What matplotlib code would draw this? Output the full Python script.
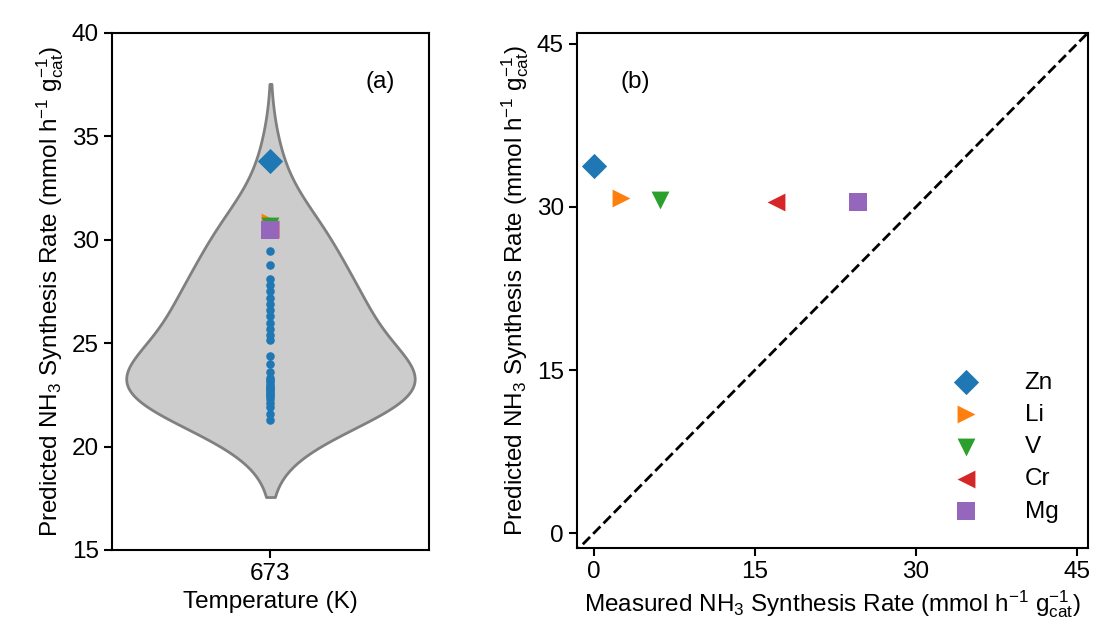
import numpy as np
import matplotlib
matplotlib.use("Agg")
import matplotlib.pyplot as plt

plt.rcParams['font.family'] = ['Liberation Sans', 'DejaVu Sans']
plt.rcParams['mathtext.fontset'] = 'custom'
plt.rcParams['mathtext.rm'] = 'Liberation Sans'
plt.rcParams['mathtext.it'] = 'Liberation Sans:italic'
plt.rcParams['mathtext.default'] = 'regular'
plt.rcParams['font.size'] = 17.5

# ---- data ----
temperature_label = "673"
other_predictions = [29.45, 28.8,
                     28.1, 27.8, 27.5, 27.2, 26.9, 26.6, 26.3, 26.0, 25.7, 25.4, 25.15,
                     24.4, 24.0, 23.6,
                     23.3, 23.2, 23.1, 23.0, 22.9, 22.85, 22.8, 22.7, 22.6, 22.5,
                     22.45, 22.3, 22.1, 21.9, 21.6, 21.3]
metals = ["Zn", "Li", "V", "Cr", "Mg"]
metal_predicted = [33.8, 30.85, 30.65, 30.5, 30.45]
metal_measured = [0.0, 2.5, 6.2, 17.0, 24.6]
metal_markers = ["D", ">", "v", "<", "s"]
metal_colors = ["#1f77b4", "#ff7f0e", "#2ca02c", "#d62728", "#9467bd"]
kde_bandwidth = 1.87

fig = plt.figure(figsize=(11.13, 6.37), dpi=100)
ax1 = fig.add_axes([0.1006, 0.1366, 0.2848, 0.8116])
ax2 = fig.add_axes([0.5184, 0.1397, 0.4590, 0.8085])

# ---- (a) violin ----
allv = np.array(other_predictions + metal_predicted)
bw = kde_bandwidth
grid = np.linspace(allv.min() - 2 * bw, allv.max() + 2 * bw, 300)
dens = np.exp(-0.5 * ((grid[:, None] - allv[None, :]) / bw) ** 2).sum(axis=1)
dens = dens / dens.max() * 0.455
ax1.fill_betweenx(grid, -dens, dens, facecolor="#cccccc", edgecolor="#808080",
                  linewidth=2, zorder=1)
ax1.scatter(np.zeros(len(other_predictions)), other_predictions, s=38,
            color="#1f77b4", zorder=3, linewidths=0)
for m, p, mk, c in zip(metals, metal_predicted, metal_markers, metal_colors):
    ax1.scatter([0], [p], marker=mk, s=165, color=c, zorder=4, linewidths=0)
ax1.set_xlim(-0.5, 0.5)
ax1.set_ylim(15, 40)
ax1.set_xticks([0])
ax1.set_xticklabels([temperature_label])
ax1.set_yticks([15, 20, 25, 30, 35, 40])
ax1.set_xlabel("Temperature (K)")
ax1.set_ylabel(r"Predicted NH$_3$ Synthesis Rate (mmol h$^{-1}$ g$_{cat}^{-1}$)")
ax1.text(0.845, 0.905, "(a)", transform=ax1.transAxes, ha="center", va="center")

# ---- (b) parity ----
ax2.plot([-2, 47], [-2, 47], "k--", lw=2, zorder=1)
for m, x, y, mk, c in zip(metals, metal_measured, metal_predicted, metal_markers, metal_colors):
    ax2.scatter([x], [y], marker=mk, s=165, color=c, label=m, zorder=3, linewidths=0)
ax2.set_xlim(-1.58, 46.02)
ax2.set_ylim(-1.38, 46.01)
ax2.set_xticks([0, 15, 30, 45])
ax2.set_yticks([0, 15, 30, 45])
ax2.set_xlabel(r"Measured NH$_3$ Synthesis Rate (mmol h$^{-1}$ g$_{cat}^{-1}$)")
ax2.set_ylabel(r"Predicted NH$_3$ Synthesis Rate (mmol h$^{-1}$ g$_{cat}^{-1}$)")
ax2.text(0.115, 0.905, "(b)", transform=ax2.transAxes, ha="center", va="center")
ax2.legend(loc="lower right", frameon=False, handletextpad=1.4, labelspacing=0.42,
           bbox_to_anchor=(0.985, 0.007))

for ax in (ax1, ax2):
    for s in ax.spines.values():
        s.set_linewidth(1.5)
    ax.tick_params(width=1.5, length=6)

fig.savefig("out.png", dpi=100)
